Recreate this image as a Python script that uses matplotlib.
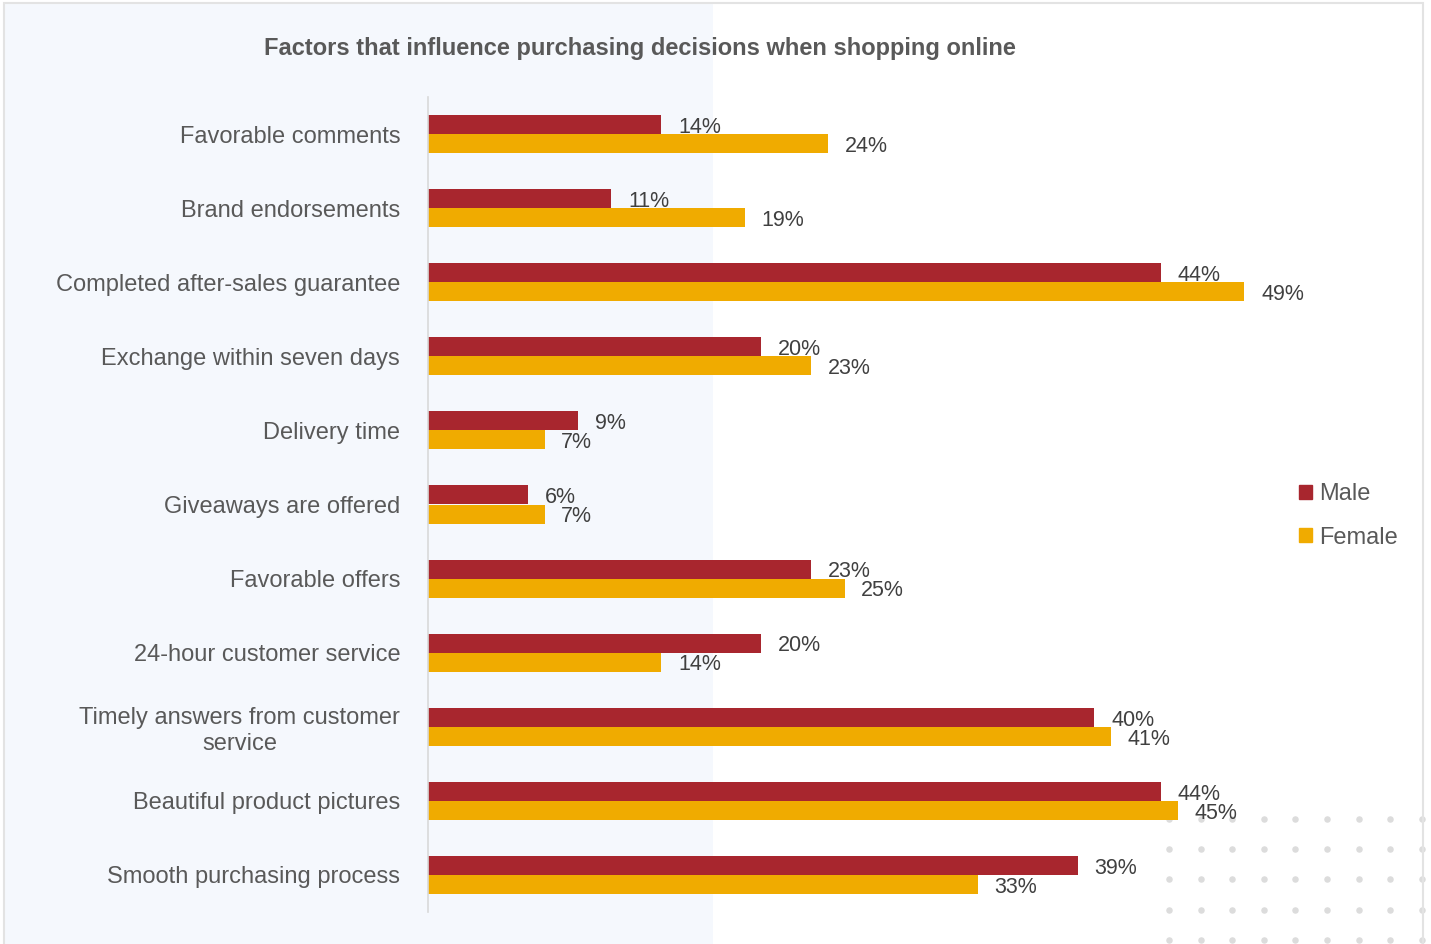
import numpy as np
import matplotlib.pyplot as plt
from matplotlib.patches import Rectangle, Patch

plt.rcParams['font.family'] = ['Liberation Sans', 'DejaVu Sans']

# survey data (percent of respondents)
factors = [
    'Favorable comments',
    'Brand endorsements',
    'Completed after-sales guarantee',
    'Exchange within seven days',
    'Delivery time',
    'Giveaways are offered',
    'Favorable offers',
    '24-hour customer service',
    'Timely answers from customer\nservice',
    'Beautiful product pictures',
    'Smooth purchasing process',
]
male = [14, 11, 44, 20, 9, 6, 23, 20, 40, 44, 39]
female = [24, 19, 49, 23, 7, 7, 25, 14, 41, 45, 33]

male_color = '#A8262E'
female_color = '#F0AB00'
text_color = '#595959'

W, H = 1431, 944
fig = plt.figure(figsize=(W / 100, H / 100), dpi=100)
fig.patch.set_facecolor('white')

# background panel, outer frame and dotted corner decoration
fig.patches.append(Rectangle((4 / W, 0), (713 - 4) / W, (H - 3) / H,
                             transform=fig.transFigure, facecolor='#F5F8FD',
                             edgecolor='none', zorder=0))
fig.patches.append(Rectangle((4 / W, -0.01), (1423 - 4) / W, (H - 3) / H + 0.01,
                             transform=fig.transFigure, facecolor='none',
                             edgecolor='#E3E3E3', linewidth=1.5, zorder=1))
dx = np.arange(9) * 31.6 + 1169
dy = np.arange(5) * 30.2 + 819
gx, gy = np.meshgrid(dx, dy)
dots = fig.add_axes([0, 0, 1, 1], zorder=0)
dots.set_xlim(0, W)
dots.set_ylim(H, 0)
dots.axis('off')
dots.scatter(gx.ravel(), gy.ravel(), s=22, color='#DCDCDC', linewidths=0)

ax = fig.add_axes([428 / W, 32 / H, 993 / W, 815 / H], zorder=2)
ax.patch.set_alpha(0)

y = np.arange(len(factors))
h = 0.257
b1 = ax.barh(y - h / 2, male, height=h, color=male_color, label='Male')
b2 = ax.barh(y + h / 2, female, height=h, color=female_color, label='Female')
anns = ax.bar_label(b1, labels=[f'{v}%' for v in male], padding=12,
                    fontsize=15.5, color='#404040')
anns += ax.bar_label(b2, labels=[f'{v}%' for v in female], padding=12,
                     fontsize=15.5, color='#404040')
# nudge value labels down a little
for a in anns:
    a.xyann = (a.xyann[0], -2)

ax.set_xlim(0, 59.6)
ax.set_ylim(len(factors) - 0.5, -0.5)
ax.set_yticks(y)
ax.set_yticklabels(factors, fontsize=17, color=text_color)
for t in ax.get_yticklabels():
    t.set_multialignment('center')
ax.tick_params(axis='y', length=0, pad=20)
ax.set_xticks([])
for s in ['top', 'right', 'bottom']:
    ax.spines[s].set_visible(False)
ax.spines['left'].set_color('#D9D9D9')
ax.spines['left'].set_linewidth(1.2)

fig.text(640 / W, 1 - 48 / H,
         'Factors that influence purchasing decisions when shopping online',
         ha='center', va='center', fontsize=17, fontweight='bold',
         color=text_color)

handles = [Patch(color=male_color), Patch(color=female_color)]
fig.legend(handles, ['Male', 'Female'], loc='center left',
           bbox_to_anchor=(1278 / W, 1 - 516 / H), frameon=False,
           fontsize=17, labelcolor=text_color, handlelength=0.55,
           handleheight=0.55, handletextpad=0.3, labelspacing=0.9)

fig.savefig('out.png', dpi=100)
